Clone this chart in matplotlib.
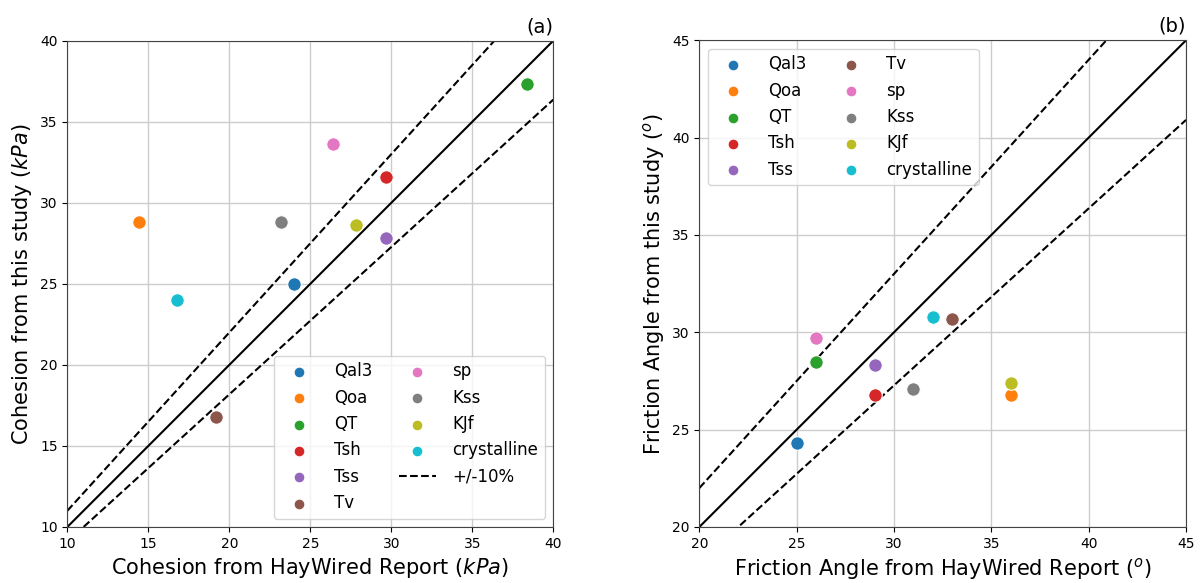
import numpy as np
import matplotlib
matplotlib.use("Agg")
import matplotlib.pyplot as plt

units = ["Qal3", "Qoa", "QT", "Tsh", "Tss", "Tv", "sp", "Kss", "KJf", "crystalline"]

# cohesion (kPa): HayWired report vs this study
coh_report = [24.0, 14.4, 38.4, 29.7, 29.7, 19.2, 26.4, 23.2, 27.8, 16.8]
coh_study = [25.0, 28.8, 37.3, 31.6, 27.8, 16.8, 33.6, 28.8, 28.6, 24.0]

# friction angle (deg): HayWired report vs this study
phi_report = [25, 36, 26, 29, 29, 33, 26, 31, 36, 32]
phi_study = [24.3, 26.8, 28.5, 26.8, 28.3, 30.7, 29.7, 27.1, 27.4, 30.8]

colors = plt.cm.tab10.colors

fig = plt.figure(figsize=(12, 5.83), dpi=100)
ax1 = fig.add_axes([67.3 / 1200, 1 - 527 / 583, 486 / 1200, 486.3 / 583])
ax2 = fig.add_axes([699.3 / 1200, 1 - 527 / 583, 486.7 / 1200, 486.7 / 583])


def one_to_one(ax, lo, hi, dash_label=None):
	xs = np.array([lo, hi])
	ax.plot(xs, xs, color="black", lw=1.5, zorder=2)
	ax.plot(xs, xs * 1.1, "--", color="black", lw=1.5, zorder=2, label=dash_label)
	ax.plot(xs, xs / 1.1, "--", color="black", lw=1.5, zorder=2)


def scatter_units(ax, xs, ys):
	for i in range(len(units)):
		ax.scatter(xs[i], ys[i], s=95, color=colors[i], edgecolor="white",
			linewidth=0.8, label=units[i], zorder=3)


# (a) cohesion
scatter_units(ax1, coh_report, coh_study)
one_to_one(ax1, 10, 40, "+/-10%")
ax1.set_xlim(10, 40)
ax1.set_ylim(10, 40)
ax1.set_xticks(range(10, 41, 5))
ax1.set_yticks(range(10, 41, 5))
ax1.set_xlabel("Cohesion from HayWired Report ($kPa$)", fontsize=15)
ax1.set_ylabel("Cohesion from this study ($kPa$)", fontsize=15)
ax1.set_title("(a)", loc="right", fontsize=14)
ax1.legend(loc="lower right", ncol=2, fontsize=12, markerscale=0.8,
	handlelength=2.2, handletextpad=1.0, columnspacing=1.6)

# (b) friction angle
scatter_units(ax2, phi_report, phi_study)
one_to_one(ax2, 20, 45)
ax2.set_xlim(20, 45)
ax2.set_ylim(20, 45)
ax2.set_xticks(range(20, 46, 5))
ax2.set_yticks(range(20, 46, 5))
ax2.set_xlabel("Friction Angle from HayWired Report ($^o$)", fontsize=15)
ax2.set_ylabel("Friction Angle from this study ($^o$)", fontsize=15)
ax2.set_title("(b)", loc="right", fontsize=14)
ax2.legend(loc="upper left", ncol=2, fontsize=12, markerscale=0.8,
	handlelength=2.2, handletextpad=1.0, columnspacing=1.6)

for ax in (ax1, ax2):
	ax.grid(True, color="#cccccc", lw=1)
	ax.set_axisbelow(True)
	ax.tick_params(labelsize=10)
	for sp in ax.spines.values():
		sp.set_color("#444444")

fig.savefig("out.png", dpi=100)
